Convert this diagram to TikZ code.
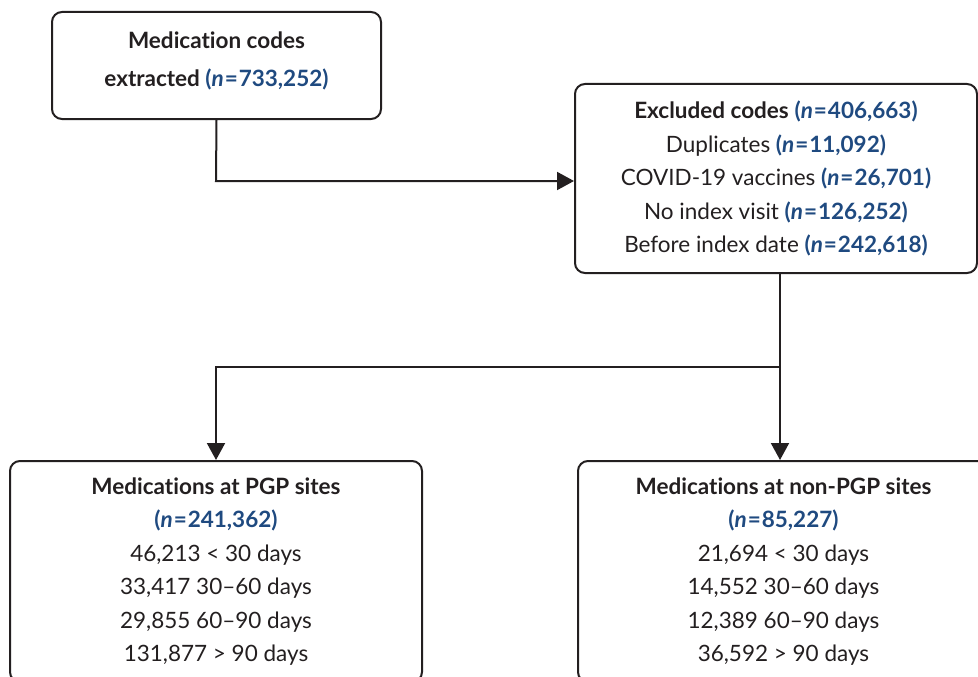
\documentclass[tikz,border=0pt]{standalone}
\usepackage{fontspec}
\setmainfont{Lato}[Ligatures={NoCommon}]
\usetikzlibrary{arrows.meta}
\definecolor{nblue}{RGB}{31,74,128}
\definecolor{ink}{RGB}{35,31,32}
\newcommand{\nval}[1]{{\bfseries\color{nblue}(\textit{n}\kern1pt=\kern1pt#1)}}
\tikzset{
  box/.style={draw=ink, line width=2pt, rounded corners=10pt, align=center,
    text=ink, inner sep=0pt, font=\fontsize{22.5}{33.5}\selectfont},
  conn/.style={draw=ink, line width=2pt},
  arr/.style={conn, -{Triangle[length=17pt,width=18pt]}}
}
\begin{document}
\begin{tikzpicture}[x=1pt,y=-1pt]
\path[use as bounding box] (0,0) rectangle (978,677);
\clip (0,0) rectangle (978,677);
\node[box, minimum width=329pt, minimum height=107pt] (A) at (216.5,65.5) {};
\node[align=center, text=ink, inner sep=0pt, font=\fontsize{22.5}{38}\selectfont] (At) at (216.5,61)
  {\bfseries Medication codes\\ \bfseries extracted \nval{733,252}\vphantom{y}};
\node[box, minimum width=402pt, minimum height=189pt] (B) at (776,178.5)
  {\textbf{Excluded codes} \nval{406,663}\\
   Duplicates \nval{11,092}\\
   COVID-19 vaccines \nval{26,701}\\
   No index visit \nval{126,252}\\
   Before index date \nval{242,618}};
\node[box, minimum width=412pt, minimum height=221pt] (C) at (216,571.5)
  {\textbf{Medications at PGP sites}\\
   \nval{241,362}\\
   46,213 < 30 days\\
   33,417 30--60 days\\
   29,855 60--90 days\\
   131,877 > 90 days};
\node[box, minimum width=411pt, minimum height=221pt] (D) at (783.5,571.5)
  {\textbf{Medications at non-PGP sites}\\
   \nval{85,227}\\
   21,694 < 30 days\\
   14,552 30--60 days\\
   12,389 60--90 days\\
   36,592 > 90 days};
\coordinate (bend1) at (216,181);
\coordinate (Bout) at (780,273);
\coordinate (split) at (780,367);
\coordinate (leftturn) at (216,367);
\draw[arr] (A.south) -- (bend1) -- (bend1 -| B.west);
\draw[arr] (Bout) -- (split) -- (split |- D.north);
\draw[arr] (split) -- (leftturn) -- (C.north);
\end{tikzpicture}
\end{document}
